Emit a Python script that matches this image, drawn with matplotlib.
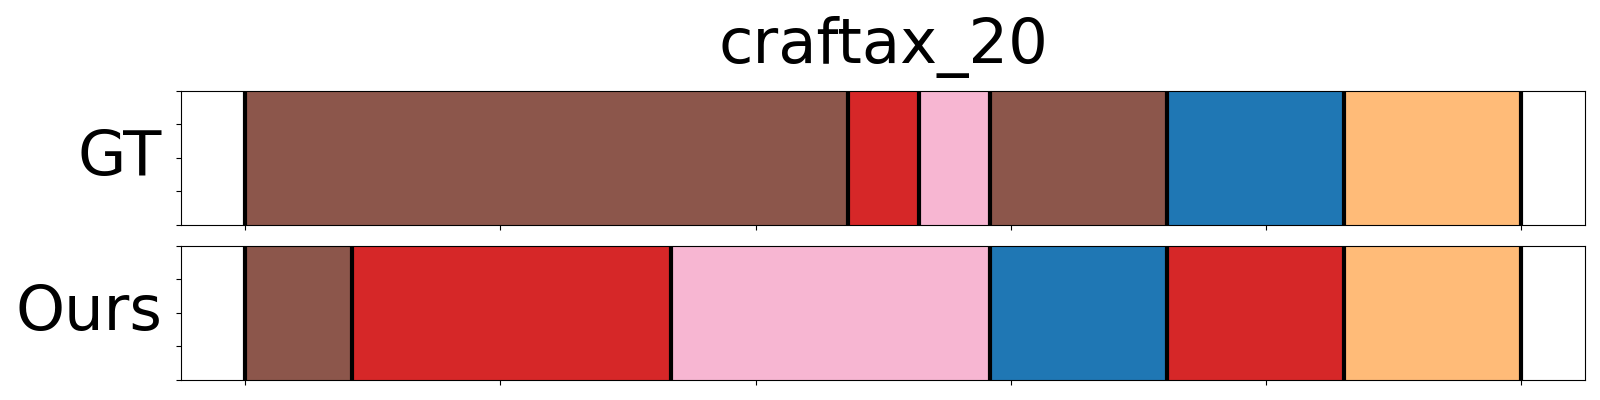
import matplotlib
matplotlib.use("Agg")
import matplotlib.pyplot as plt
import numpy as np

title = "craftax_20"
n_frames = 36
row_labels = ["GT", "Ours"]
gt_bounds = [0, 17, 19, 21, 26, 31, 36]
gt_classes = ["brown", "red", "pink", "brown", "blue", "orange"]
ours_bounds = [0, 3, 12, 21, 26, 31, 36]
ours_classes = ["brown", "red", "pink", "blue", "red", "orange"]

class_colors = {
    "brown": "#8c564b",
    "red": "#d62728",
    "pink": "#f7b6d2",
    "blue": "#1f77b4",
    "orange": "#ffbb78",
}

fig = plt.figure(figsize=(16, 4), dpi=100)
ax_gt = fig.add_axes([0.1134, 0.4375, 0.8772, 0.3355])
ax_ours = fig.add_axes([0.1134, 0.05, 0.8772, 0.3358])

for ax, bounds, classes, label in [(ax_gt, gt_bounds, gt_classes, row_labels[0]),
                                    (ax_ours, ours_bounds, ours_classes, row_labels[1])]:
    b = np.array(bounds) / n_frames
    starts = b[:-1]
    widths = np.diff(b)
    ax.barh(0.5, widths, left=starts, height=1.0,
            color=[class_colors[c] for c in classes],
            edgecolor=[class_colors[c] for c in classes], linewidth=0.8, align="center")
    for x in b:
        ax.axvline(x, color="black", linewidth=3, zorder=3)
    ax.set_xlim(-0.05, 1.05)
    ax.set_ylim(0, 1)
    ax.set_yticks(np.linspace(0, 1, 5))
    ax.set_xticks(np.linspace(0, 1, 6))
    ax.set_yticklabels([])
    ax.set_xticklabels([])
    ax.set_ylabel(label, rotation=0, ha="right", va="center", fontsize=45, labelpad=7)

ax_gt.set_title(title, fontsize=45, pad=20)

fig.savefig("out.png", dpi=100)
